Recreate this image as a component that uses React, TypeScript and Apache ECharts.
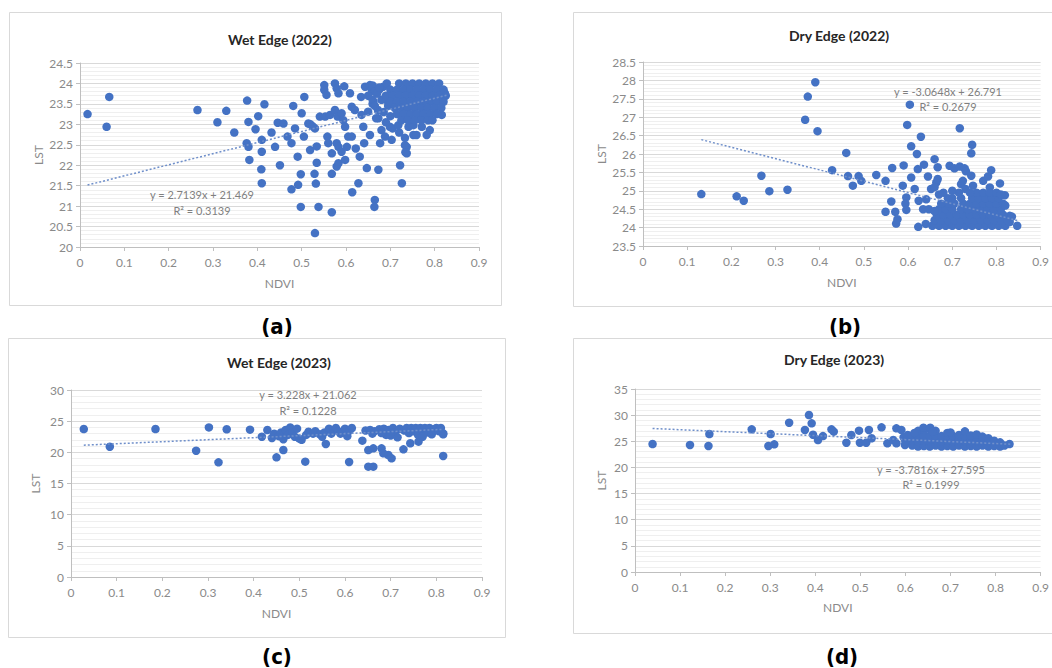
import React, { useEffect, useRef } from "react";
import * as echarts from "echarts";

// ---------- DATA ----------
const PANEL_TITLES = ["Wet Edge (2022)", "Dry Edge (2022)", "Wet Edge (2023)", "Dry Edge (2023)"];
const PANEL_LETTERS = ["(a)", "(b)", "(c)", "(d)"];
const EQUATIONS = ["y = 2.7139x + 21.469", "y = -3.0648x + 26.791", "y = 3.228x + 21.062", "y = -3.7816x + 27.595"];
const R_SQUARED = ["R² = 0.3139", "R² = 0.2679", "R² = 0.1228", "R² = 0.1999"];
const X_AXIS_NAME = "NDVI";
const Y_AXIS_NAME = "LST";

const Y_RANGES: [number, number, number][] = [
  [20, 24.5, 0.5],
  [23.5, 28.5, 0.5],
  [0, 30, 5],
  [0, 35, 5],
];

const TREND_A: [number, number][] = [[0.017, 21.515], [0.83, 23.72]];
const TREND_B: [number, number][] = [[0.132, 26.39], [0.847, 24.195]];
const TREND_C: [number, number][] = [[0.028, 21.15], [0.815, 23.69]];
const TREND_D: [number, number][] = [[0.039, 27.447], [0.834, 24.44]];

const WET_2022: [number, number][] = [
  [0.017, 23.25], [0.06, 22.94], [0.066, 23.67], [0.265, 23.35], [0.31, 23.05], [0.33, 23.33], [0.348, 22.8],
  [0.377, 23.58], [0.38, 23.06], [0.376, 22.54], [0.38, 22.45], [0.382, 22.13], [0.396, 22.88], [0.402, 23.2],
  [0.416, 23.49], [0.41, 22.62], [0.41, 22.33], [0.409, 21.9], [0.41, 21.56], [0.432, 22.8], [0.44, 22.45],
  [0.446, 23.04], [0.459, 23.02], [0.451, 22.0], [0.468, 22.7], [0.477, 22.54], [0.481, 23.45], [0.485, 22.9],
  [0.491, 22.21], [0.492, 21.52], [0.477, 21.41], [0.498, 21.78], [0.498, 20.98], [0.506, 23.67], [0.505, 22.7],
  [0.5, 23.27], [0.515, 23.02], [0.519, 22.37], [0.529, 21.79], [0.532, 21.55], [0.534, 22.06], [0.53, 20.34],
  [0.538, 20.98], [0.534, 22.46], [0.53, 22.9], [0.52, 23.0], [0.525, 22.95], [0.541, 23.19], [0.553, 23.19],
  [0.564, 23.23], [0.551, 23.96], [0.551, 23.84], [0.556, 23.72], [0.558, 22.7], [0.56, 22.54], [0.568, 22.29],
  [0.568, 21.79], [0.568, 20.85], [0.575, 24.0], [0.579, 23.88], [0.583, 23.76], [0.575, 23.35], [0.581, 23.19],
  [0.579, 22.54], [0.583, 22.45], [0.579, 21.97], [0.583, 22.05], [0.596, 23.93], [0.59, 23.27], [0.594, 23.1],
  [0.598, 22.94], [0.59, 22.33], [0.598, 22.13], [0.602, 22.45], [0.609, 23.76], [0.613, 23.43], [0.605, 22.7],
  [0.613, 22.7], [0.62, 23.35], [0.622, 22.41], [0.614, 21.34], [0.628, 21.56], [0.631, 22.21], [0.635, 23.23],
  [0.634, 23.67], [0.639, 22.94], [0.643, 23.92], [0.641, 22.54], [0.647, 21.93], [0.65, 23.31], [0.654, 23.96],
  [0.658, 23.84], [0.654, 22.74], [0.662, 23.55], [0.665, 21.15], [0.664, 20.98], [0.673, 21.89], [0.677, 22.54],
  [0.673, 23.15], [0.68, 22.86], [0.684, 23.92], [0.692, 24.0], [0.688, 22.7], [0.699, 22.94], [0.703, 22.62],
  [0.722, 22.0], [0.726, 21.56], [0.737, 22.45], [0.737, 22.29], [0.741, 22.94], [0.752, 22.74], [0.759, 22.74],
  [0.789, 22.86], [0.816, 23.23], [0.823, 23.76],
  [0.66, 23.95], [0.665, 23.8], [0.675, 23.85], [0.65, 23.7], [0.66, 23.5], [0.672, 23.35], [0.668, 23.15], [0.69, 23.6],
  [0.68, 23.6], [0.685, 23.3], [0.69, 23.05], [0.695, 23.45], [0.67, 23.75], [0.675, 23.9], [0.66, 23.6], [0.665, 23.45],
  [0.70, 23.2], [0.705, 22.9], [0.72, 22.8], [0.718, 22.98], [0.752, 22.98], [0.771, 22.94], [0.782, 22.74],
  [0.733, 22.67], [0.733, 22.49], [0.734, 22.32],
  [0.72, 24.0], [0.735, 24.0], [0.75, 24.0], [0.765, 24.0], [0.78, 24.0], [0.795, 24.0], [0.81, 24.0],
  [0.70, 23.85], [0.715, 23.85], [0.73, 23.85], [0.745, 23.85], [0.76, 23.85], [0.775, 23.85], [0.79, 23.85], [0.805, 23.85], [0.82, 23.85],
  [0.69, 23.7], [0.705, 23.7], [0.72, 23.7], [0.735, 23.7], [0.75, 23.7], [0.765, 23.7], [0.78, 23.7], [0.795, 23.7], [0.81, 23.7], [0.825, 23.7],
  [0.70, 23.55], [0.715, 23.55], [0.73, 23.55], [0.745, 23.55], [0.76, 23.55], [0.775, 23.55], [0.79, 23.55], [0.805, 23.55], [0.82, 23.55],
  [0.71, 23.4], [0.725, 23.4], [0.74, 23.4], [0.755, 23.4], [0.77, 23.4], [0.785, 23.4], [0.80, 23.4], [0.815, 23.4],
  [0.715, 23.25], [0.73, 23.25], [0.745, 23.25], [0.76, 23.25], [0.775, 23.25], [0.79, 23.25], [0.805, 23.25],
  [0.725, 23.1], [0.74, 23.1], [0.755, 23.1], [0.77, 23.1], [0.785, 23.1], [0.795, 23.1],
];

const DRY_2022: [number, number][] = [
  [0.132, 24.91], [0.212, 24.85], [0.228, 24.73], [0.268, 25.41], [0.286, 24.99], [0.327, 25.03], [0.367, 26.93],
  [0.373, 27.56], [0.39, 27.95], [0.395, 26.62], [0.428, 25.56], [0.46, 26.03], [0.464, 25.4], [0.475, 25.14],
  [0.488, 25.4], [0.494, 25.27], [0.528, 25.43], [0.549, 25.27], [0.549, 24.43], [0.562, 24.71], [0.564, 25.62],
  [0.571, 24.43], [0.573, 24.11], [0.576, 24.23], [0.588, 25.14], [0.59, 25.69], [0.596, 24.82], [0.594, 24.65],
  [0.596, 24.48], [0.598, 26.79], [0.604, 27.34], [0.607, 26.21], [0.607, 25.36], [0.615, 25.05], [0.62, 26.0],
  [0.622, 25.59], [0.624, 24.73], [0.623, 24.02], [0.629, 26.47], [0.636, 25.71], [0.634, 24.5], [0.641, 24.77],
  [0.645, 25.39], [0.647, 24.5], [0.652, 25.05], [0.66, 25.86], [0.664, 25.23], [0.667, 25.64], [0.667, 25.32],
  [0.717, 26.7], [0.694, 25.68], [0.705, 25.61], [0.717, 25.66], [0.728, 25.61], [0.731, 25.53], [0.72, 25.18],
  [0.724, 25.27], [0.743, 26.02], [0.745, 26.25], [0.743, 25.41], [0.747, 25.14], [0.77, 25.27], [0.781, 25.39],
  [0.788, 25.56], [0.785, 25.09], [0.808, 25.2], [0.819, 24.88], [0.847, 24.05], [0.83, 24.32],
  [0.655, 24.05], [0.67, 24.05], [0.685, 24.05], [0.70, 24.05], [0.715, 24.05], [0.73, 24.05], [0.745, 24.05], [0.76, 24.05], [0.775, 24.05], [0.79, 24.05], [0.805, 24.05], [0.82, 24.05],
  [0.66, 24.2], [0.675, 24.2], [0.69, 24.2], [0.705, 24.2], [0.72, 24.2], [0.735, 24.2], [0.75, 24.2], [0.765, 24.2], [0.78, 24.2], [0.795, 24.2], [0.81, 24.2], [0.825, 24.2],
  [0.665, 24.35], [0.68, 24.35], [0.695, 24.35], [0.71, 24.35], [0.725, 24.35], [0.74, 24.35], [0.755, 24.35], [0.77, 24.35], [0.785, 24.35], [0.80, 24.35], [0.815, 24.35],
  [0.67, 24.5], [0.685, 24.5], [0.70, 24.5], [0.72, 24.5], [0.735, 24.5], [0.75, 24.5], [0.765, 24.5], [0.78, 24.5], [0.795, 24.5], [0.81, 24.5],
  [0.69, 24.65], [0.705, 24.65], [0.725, 24.65], [0.74, 24.65], [0.755, 24.65], [0.77, 24.65], [0.785, 24.65], [0.80, 24.65], [0.815, 24.65],
  [0.70, 24.8], [0.72, 24.8], [0.745, 24.8], [0.76, 24.8], [0.775, 24.8], [0.79, 24.8], [0.805, 24.8],
  [0.715, 24.95], [0.755, 24.95], [0.77, 24.95], [0.785, 24.95], [0.80, 24.95],
  [0.68, 24.95], [0.69, 24.8], [0.675, 24.65], [0.66, 24.45], [0.64, 24.1], [0.83, 24.15], [0.835, 24.3],
  [0.82, 24.6], [0.81, 24.9], [0.73, 25.05], [0.74, 24.95], [0.70, 25.0], [0.66, 25.1], [0.67, 24.9],
];

const WET_2023: [number, number][] = [
  [0.028, 23.74], [0.085, 20.9], [0.185, 23.74], [0.274, 20.26], [0.302, 24.0], [0.323, 18.4], [0.341, 23.7],
  [0.392, 23.64], [0.418, 22.5], [0.43, 23.58], [0.45, 19.2], [0.465, 20.37], [0.513, 18.5], [0.558, 21.34],
  [0.609, 18.45], [0.638, 21.87], [0.651, 17.7], [0.662, 17.7], [0.651, 20.37], [0.662, 20.64], [0.68, 20.64],
  [0.695, 19.57], [0.702, 19.04], [0.684, 19.84], [0.728, 20.48], [0.743, 21.45], [0.761, 21.71], [0.815, 19.42],
  [0.815, 23.05],
  [0.44, 22.3], [0.445, 23.0], [0.455, 22.6], [0.46, 23.2], [0.465, 22.1], [0.47, 23.6], [0.475, 22.8], [0.48, 24.0],
  [0.485, 23.2], [0.49, 22.5], [0.495, 23.8], [0.50, 22.2], [0.505, 22.0], [0.515, 22.8], [0.52, 23.3], [0.53, 23.0],
  [0.535, 23.4], [0.545, 22.9], [0.55, 22.5], [0.555, 23.2], [0.565, 23.8], [0.57, 23.0], [0.58, 23.9], [0.585, 23.4],
  [0.59, 23.0], [0.60, 23.8], [0.605, 22.6], [0.61, 23.5], [0.615, 23.9],
  [0.645, 23.5], [0.655, 23.6], [0.665, 23.4], [0.675, 23.7], [0.685, 23.8], [0.69, 22.8], [0.695, 23.6], [0.705, 23.9],
  [0.71, 23.2], [0.715, 22.4], [0.72, 23.8], [0.73, 23.5], [0.735, 23.9], [0.74, 23.1], [0.745, 23.9], [0.75, 23.4],
  [0.755, 23.9], [0.76, 22.8], [0.765, 23.9], [0.77, 23.5], [0.775, 23.9], [0.78, 23.2], [0.785, 23.9], [0.79, 22.9],
  [0.795, 23.7], [0.80, 23.9], [0.805, 23.4], [0.81, 23.9], [0.815, 22.9], [0.68, 23.1], [0.66, 23.0], [0.70, 22.7],
  [0.77, 22.5],
];

const DRY_2023: [number, number][] = [
  [0.039, 24.48], [0.122, 24.29], [0.163, 24.1], [0.165, 26.39], [0.259, 27.29], [0.296, 24.1], [0.301, 26.39],
  [0.309, 24.42], [0.342, 28.55], [0.377, 27.16], [0.386, 30.02], [0.392, 28.43], [0.395, 26.26], [0.406, 25.24],
  [0.417, 26.0], [0.436, 27.29], [0.441, 26.84], [0.469, 24.73], [0.48, 26.2], [0.497, 27.03], [0.499, 24.73],
  [0.513, 24.73], [0.519, 27.16], [0.525, 25.57], [0.547, 27.67], [0.56, 24.61], [0.58, 27.48], [0.591, 27.16],
  [0.573, 25.24], [0.596, 25.76], [0.599, 24.29], [0.58, 24.61], [0.831, 24.48],
  [0.615, 24.2], [0.615, 25.2], [0.615, 26.0],
  [0.628, 24.0], [0.628, 25.0], [0.628, 26.0], [0.628, 27.0],
  [0.641, 24.1], [0.641, 25.1], [0.641, 26.1], [0.641, 27.2],
  [0.654, 24.0], [0.654, 25.0], [0.654, 26.0], [0.654, 27.3],
  [0.667, 24.2], [0.667, 25.2], [0.667, 26.2], [0.667, 27.0],
  [0.68, 24.0], [0.68, 25.0], [0.68, 26.0],
  [0.693, 24.1], [0.693, 25.1], [0.693, 26.1], [0.693, 26.6],
  [0.706, 24.0], [0.706, 25.0], [0.706, 26.0],
  [0.719, 24.2], [0.719, 25.2], [0.719, 26.2],
  [0.732, 24.0], [0.732, 25.0], [0.732, 26.0], [0.732, 26.9],
  [0.745, 24.1], [0.745, 25.1], [0.745, 26.1],
  [0.758, 24.0], [0.758, 25.0], [0.758, 26.3],
  [0.771, 24.2], [0.771, 25.2], [0.771, 25.9],
  [0.784, 24.0], [0.784, 25.0], [0.784, 25.6],
  [0.797, 24.1], [0.797, 25.1],
  [0.81, 24.0], [0.81, 24.8],
  [0.82, 24.2],
  [0.60, 25.0], [0.605, 26.2], [0.62, 26.6], [0.64, 27.6], [0.655, 27.6], [0.66, 26.8], [0.70, 26.7],
];

const SCATTER_DATA = [WET_2022, DRY_2022, WET_2023, DRY_2023];
const TREND_DATA = [TREND_A, TREND_B, TREND_C, TREND_D];

// ---------- LAYOUT / STYLE ----------
const GRIDS = [
  { left: 80, top: 63, width: 399, height: 184 },
  { left: 643, top: 62, width: 398, height: 184 },
  { left: 71, top: 390, width: 411, height: 187 },
  { left: 635, top: 389, width: 406, height: 183 },
];
const BOXES = [
  { x: 9.5, y: 12.5, w: 492, h: 293 },
  { x: 573.5, y: 12.5, w: 490, h: 294 },
  { x: 8.5, y: 338.5, w: 497, h: 299 },
  { x: 573.5, y: 338.5, w: 490, h: 295 },
];
const TITLE_POS = [[280, 39], [839, 35], [279, 362], [834, 359]];
const LETTER_POS = [[277, 326], [845, 326], [277, 656], [842, 656]];
const EQ_POS = [[202, 194, 210], [948, 91, 106], [308, 394, 410], [931, 469, 484]];
const Y_NAME_GAP = [36, 36, 30, 28];
const X_NAME_GAP = [30, 30, 30, 29];

const FONT = "Lato, 'Open Sans', sans-serif";
const MARKER = "#4472c4";
const TICK_COLOR = "#8a8a8a";

export default function App() {
  const ref = useRef<HTMLDivElement>(null);

  useEffect(() => {
    if (!ref.current) return;
    const chart = echarts.init(ref.current, undefined, { renderer: "svg" });

    const grid = GRIDS.map((g) => ({ ...g, containLabel: false }));
    const xAxis = GRIDS.map((_, i) => ({
      type: "value",
      gridIndex: i,
      min: 0,
      max: 0.9,
      interval: 0.1,
      name: X_AXIS_NAME,
      nameLocation: "middle",
      nameGap: X_NAME_GAP[i],
      nameTextStyle: { color: TICK_COLOR, fontSize: 12, fontFamily: FONT },
      axisLine: { show: true, onZero: false, lineStyle: { color: "#bfbfbf", width: 1 } },
      axisTick: { show: true, length: 4, lineStyle: { color: "#bfbfbf" } },
      axisLabel: { color: TICK_COLOR, fontSize: 12, fontFamily: FONT, margin: 9 },
      splitLine: { show: false },
    }));
    const yAxis = GRIDS.map((_, i) => ({
      type: "value",
      gridIndex: i,
      min: Y_RANGES[i][0],
      max: Y_RANGES[i][1],
      interval: Y_RANGES[i][2],
      name: Y_AXIS_NAME,
      nameLocation: "middle",
      nameGap: Y_NAME_GAP[i],
      nameTextStyle: { color: TICK_COLOR, fontSize: 12, fontFamily: FONT },
      axisLine: { show: true, onZero: false, lineStyle: { color: "#bfbfbf", width: 1 } },
      axisTick: { show: true, length: 4, lineStyle: { color: "#bfbfbf" } },
      axisLabel: { color: TICK_COLOR, fontSize: 12, fontFamily: FONT, margin: 7 },
      splitLine: { show: true, lineStyle: { color: "#d9d9d9", width: 1 } },
      minorTick: { show: false, splitNumber: 5 },
      minorSplitLine: { show: true, lineStyle: { color: "#efefef", width: 1 } },
    }));

    const series: any[] = [];
    SCATTER_DATA.forEach((d, i) => {
      series.push({
        type: "scatter",
        xAxisIndex: i,
        yAxisIndex: i,
        data: d,
        symbolSize: 8.5,
        itemStyle: { color: MARKER, opacity: 1 },
        z: 2,
      });
    });
    TREND_DATA.forEach((d, i) => {
      series.push({
        type: "line",
        xAxisIndex: i,
        yAxisIndex: i,
        data: d,
        symbol: "none",
        lineStyle: { color: "#6f8fca", width: 1.5, type: [2, 2] },
        z: 3,
      });
    });

    const graphic: any[] = [];
    BOXES.forEach((b) => {
      graphic.push({
        type: "rect",
        shape: { x: b.x, y: b.y, width: b.w, height: b.h },
        style: { fill: "none", stroke: "#d9d9d9", lineWidth: 1 },
        silent: true,
      });
    });
    PANEL_TITLES.forEach((t, i) => {
      graphic.push({
        type: "text",
        x: TITLE_POS[i][0],
        y: TITLE_POS[i][1],
        style: {
          text: t,
          fill: "#262626",
          font: `bold 14px ${FONT}`,
          textAlign: "center",
          textVerticalAlign: "middle",
        },
      });
    });
    PANEL_LETTERS.forEach((t, i) => {
      graphic.push({
        type: "text",
        x: LETTER_POS[i][0],
        y: LETTER_POS[i][1],
        style: {
          text: t,
          fill: "#000000",
          font: `bold 22px 'DejaVu Sans Condensed', 'DejaVu Sans', sans-serif`,
          textAlign: "center",
          textVerticalAlign: "middle",
        },
      });
    });
    EQUATIONS.forEach((t, i) => {
      graphic.push({
        type: "text",
        x: EQ_POS[i][0],
        y: EQ_POS[i][1],
        style: {
          text: t,
          fill: "#7f7f7f",
          font: `11px ${FONT}`,
          textAlign: "center",
          textVerticalAlign: "middle",
        },
        z: 10,
      });
      graphic.push({
        type: "text",
        x: EQ_POS[i][0],
        y: EQ_POS[i][2],
        style: {
          text: R_SQUARED[i],
          fill: "#7f7f7f",
          font: `11px ${FONT}`,
          textAlign: "center",
          textVerticalAlign: "middle",
        },
        z: 10,
      });
    });

    chart.setOption({
      animation: false,
      backgroundColor: "#ffffff",
      grid,
      xAxis,
      yAxis,
      series,
      graphic,
    });

    return () => chart.dispose();
  }, []);

  return (
    <div
      ref={ref}
      style={{ position: "fixed", left: 0, top: 0, width: 1052, height: 668, background: "#fff" }}
    />
  );
}
